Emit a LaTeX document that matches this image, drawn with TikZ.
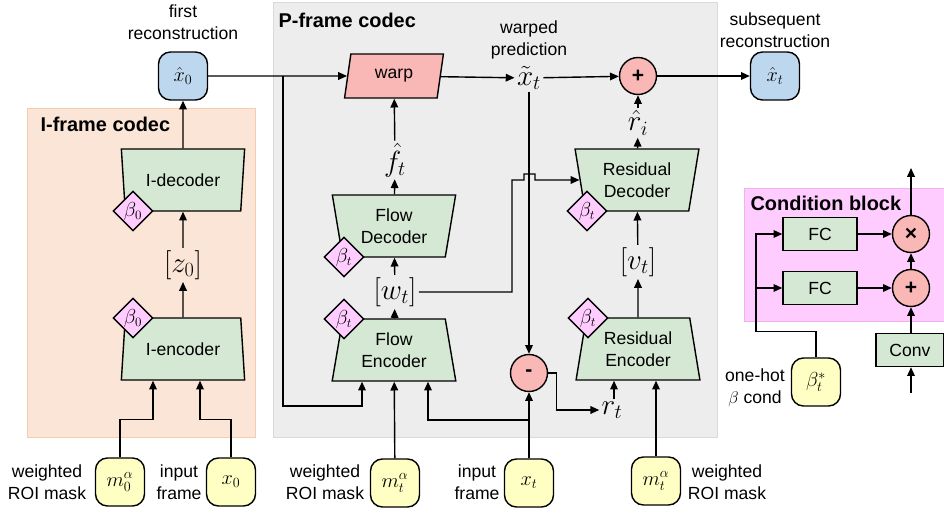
\documentclass[tikz,border=0pt]{standalone}
\usepackage{fontspec}
\setmainfont{Liberation Sans}
\usetikzlibrary{shapes.geometric,arrows.meta}

\definecolor{coderfill}{HTML}{D5E8D4}
\definecolor{inputfill}{HTML}{FFFFC4}
\definecolor{reconfill}{HTML}{BDD7EE}
\definecolor{opfill}{HTML}{F9B8B5}
\definecolor{betafill}{HTML}{FFCCFF}
\definecolor{ibg}{HTML}{FBE5D6}
\definecolor{iborder}{HTML}{F8CBAD}
\definecolor{pbg}{HTML}{EDEDED}
\definecolor{pborder}{HTML}{D9D9D9}
\definecolor{cbg}{HTML}{FFCCFF}
\definecolor{cborder}{HTML}{F2B0F2}

\begin{document}
\begin{tikzpicture}[
  x=0.03cm, y=-0.03cm,
  font=\fontsize{15}{18.5}\selectfont,
  line width=1.2pt,
  arr/.style={-{Triangle[length=7.5pt,width=6.5pt]}},
  coder/.style={trapezium, trapezium stretches=true, trapezium angle=79, draw, fill=coderfill,
    minimum width=3.72cm, minimum height=1.86cm, inner sep=0pt, align=center},
  decoder/.style={coder, shape border rotate=180},
  betatag/.style={diamond, draw, fill=betafill, minimum size=1.2cm, inner sep=0pt,
    font=\fontsize{16}{16}\selectfont},
  frame/.style={rectangle, rounded corners=0.36cm, draw, minimum width=1.47cm,
    minimum height=1.44cm, inner sep=0pt, font=\fontsize{17}{17}\selectfont},
  input/.style={frame, fill=inputfill},
  recon/.style={frame, fill=reconfill},
  op/.style={circle, draw, fill=opfill, minimum size=1.11cm, inner sep=0pt,
    font=\fontsize{18}{18}\selectfont\bfseries},
  fc/.style={rectangle, draw, fill=coderfill, minimum width=2.22cm, minimum height=0.99cm},
  var/.style={inner sep=1.5pt, font=\fontsize{23}{23}\selectfont},
  lbl/.style={align=center},
  title/.style={anchor=west, font=\fontsize{17}{20}\selectfont\bfseries}
]
\useasboundingbox (0,0) rectangle (944,513);

% background regions
\draw[line width=0.8pt, draw=iborder, fill=ibg] (27,108) rectangle (255,437);
\draw[line width=0.8pt, draw=pborder, fill=pbg] (273,2) rectangle (717,437);
\draw[line width=0.8pt, draw=cborder, fill=cbg] (744,188) rectangle (950,321);
\node[title] (ititle) at (36,124) {I-frame codec};
\node[title] (ptitle) at (274,20) {P-frame codec};
\node[title] (ctitle) at (746,203) {Condition block};

% I-frame codec
\node[recon] (x0hat) at (183,76) {$\hat{x}_0$};
\node[lbl] (firstlbl) at (183,22) {first\\reconstruction};
\node[decoder] (idec) at (183,180) {I-decoder};
\node[var] (z0) at (183,265) {$[z_0]$};
\node[coder] (ienc) at (183,349) {I-encoder};
\node[betatag] (idecbeta) at (133,211) {$\beta_0$};
\node[betatag] (iencbeta) at (133,318) {$\beta_0$};
\node[input] (m0) at (120,482) {$m_0^\alpha$};
\node[input] (x0) at (231,482) {$x_0$};
\node[lbl] (m0lbl) at (47,482) {weighted\\ROI mask};
\node[lbl] (x0lbl) at (179,482) {input\\frame};

% P-frame codec
\node[trapezium, trapezium stretches=true, trapezium left angle=78, trapezium right angle=102,
  draw, fill=opfill, minimum width=2.97cm, minimum height=1.32cm, inner sep=0pt] (warp) at (394,76) {warp};
\node[var] (xtilde) at (529,78) {$\tilde{x}_t$};
\node[lbl] (warplbl) at (529,40) {warped\\prediction};
\node[op] (plus) at (638,76) {+};
\node[recon] (xthat) at (775,76) {$\hat{x}_t$};
\node[lbl] (sublbl) at (775,30) {subsequent\\reconstruction};

\node[var] (fhat) at (395,160) {$\hat{f}_t$};
\node[decoder] (fdec) at (394,226) {Flow\\Decoder};
\node[var] (wt) at (395,292) {$[w_t]$};
\node[coder] (fenc) at (394,350) {Flow\\Encoder};
\node[betatag] (fdecbeta) at (344,257) {$\beta_t$};
\node[betatag] (fencbeta) at (344,319) {$\beta_t$};

\node[var] (rhat) at (638,123) {$\hat{r}_i$};
\node[decoder] (rdec) at (637,180) {Residual\\Decoder};
\node[var] (vt) at (638,262) {$[v_t]$};
\node[coder] (renc) at (638,349) {Residual\\Encoder};
\node[betatag] (rdecbeta) at (587,211) {$\beta_t$};
\node[betatag] (rencbeta) at (588,318) {$\beta_t$};
\node[op] (minus) at (529,373) {-};
\node[var] (rt) at (612,410) {$r_t$};

\node[input] (mtl) at (395,483) {$m_t^\alpha$};
\node[input] (xt) at (529,483) {$x_t$};
\node[input] (mtr) at (656,481) {$m_t^\alpha$};
\node[lbl] (mtllbl) at (325,482) {weighted\\ROI mask};
\node[lbl] (xtlbl) at (477,482) {input\\frame};
\node[lbl] (mtrlbl) at (727,482) {weighted\\ROI mask};

% condition block
\node[fc] (fc1) at (820,234) {FC};
\node[fc] (fc2) at (820,288) {FC};
\node[op] (mult) at (911,234) {×};
\node[op] (add) at (911,288) {+};
\node[fc, minimum width=2.04cm] (conv) at (910,350) {Conv};
\node[input] (betastar) at (816,382) {$\beta_t^*$};
\node[lbl] (betalbl) at (755,388) {one-hot\\$\beta$ cond};
\coordinate (condout) at (911,168);
\coordinate (condin) at (911,393);
\coordinate (condsplit) at (756,288);

% I-frame connectors
\draw[arr] (m0.north) -- ++(0,-38) -| ([xshift=-0.9cm]ienc.south);
\draw[arr] (x0.north) -- ++(0,-38) -| ([xshift=0.51cm]ienc.south);
\draw[arr] (ienc) -- (z0);
\draw[arr] (z0) -- (idec);
\draw[arr] (idec) -- (x0hat);

% P-frame connectors
\coordinate (split) at (283,76);
\draw[arr] (x0hat) -- (warp);
\draw[arr] (split) -- ++(0,330) -| ([xshift=-0.96cm]fenc.south);
\draw[arr] (mtl) -- (fenc);
\coordinate (xtsplit) at (529,420);
\draw[arr] (xt) -- (minus);
\draw[arr] (xtsplit) -| ([xshift=1.02cm]fenc.south);
\draw[arr] (fenc) -- (wt);
\draw[arr] (wt) -- (fdec);
\draw[arr] (fdec) -- (fhat);
\draw[arr] (fhat) -- (warp);
\draw[arr] (wt.east) -| (512,180) -- (524,180) -- (524,174) -- (535,174) -- (535,180) -- (rdec);
\draw[arr] (warp) -- (xtilde);
\draw[arr] (xtilde) -- (plus);
\draw[arr] (xtilde) -- (minus);
\draw[arr] (minus.east) -- ++(8,0) |- (rt);
\draw[arr] ([xshift=0.06cm]rt.north) -- ([xshift=0.06cm]rt.north |- renc.south);
\draw[arr] (mtr) -- (mtr |- renc.south);
\draw[arr] (renc) -- (vt);
\draw[arr] (vt) -- (rdec);
\draw[arr] (rdec) -- (rhat);
\draw[arr] (rhat) -- (plus);
\draw[arr] (plus) -- (xthat);

% condition block connectors
\draw[arr] (betastar.north) -- ++(0,-26) -| (756,234) -- (fc1);
\draw[arr] (condsplit) -- (fc2);
\draw[arr] (fc1) -- (mult);
\draw[arr] (fc2) -- (add);
\draw[arr] (add) -- (mult);
\draw[arr] (conv.north -| add) -- (add);
\draw[arr] (mult) -- (condout);
\draw[arr] (condin) -- (condin |- conv.south);
\end{tikzpicture}
\end{document}
